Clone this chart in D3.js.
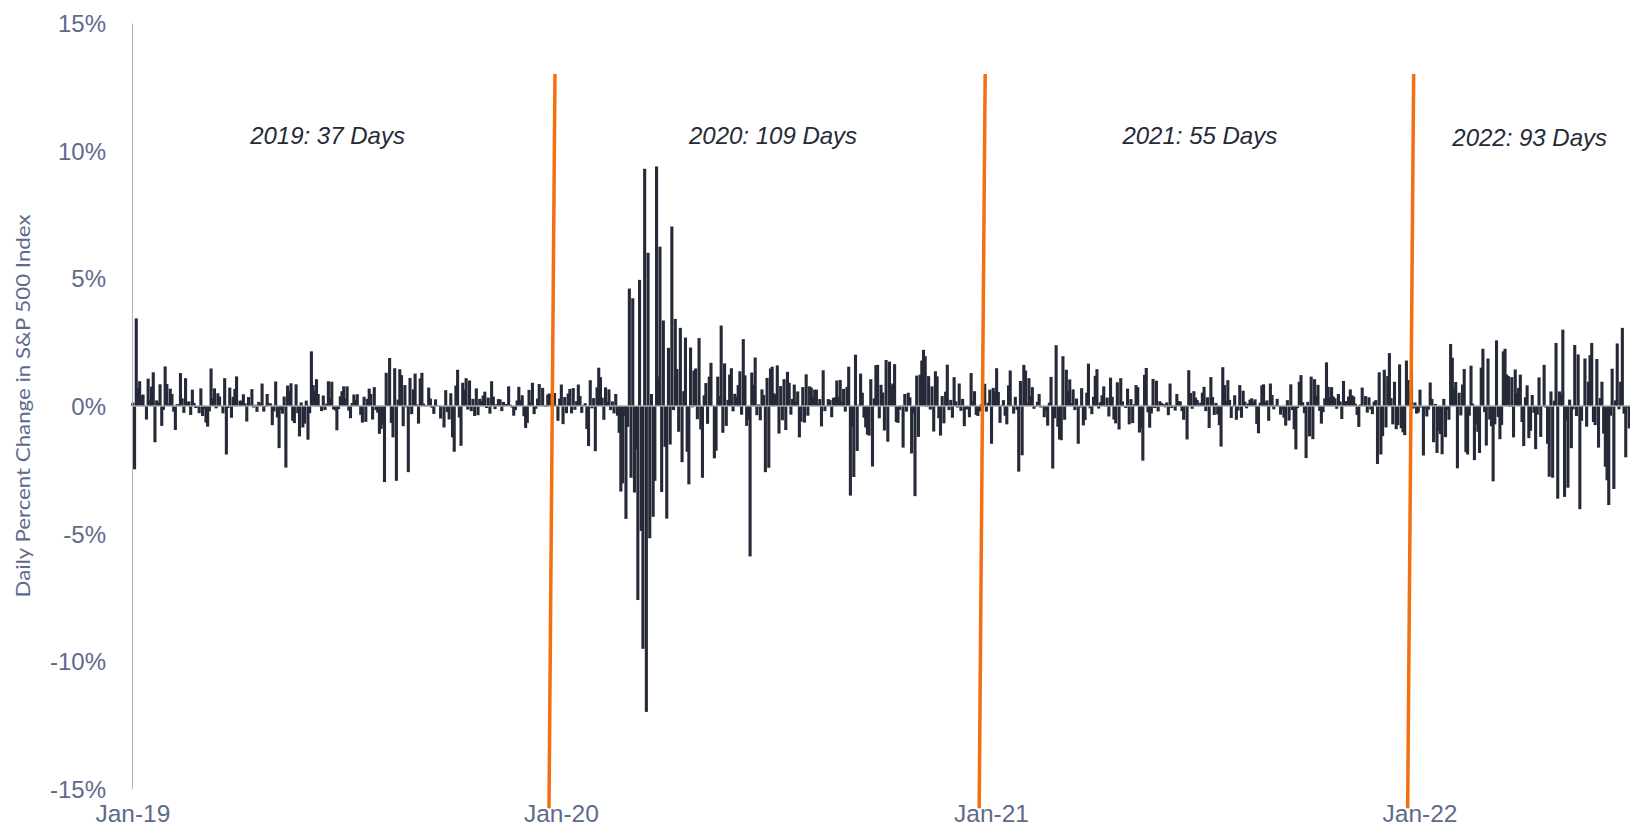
<!DOCTYPE html>
<html><head><meta charset="utf-8">
<script src="https://cdn.jsdelivr.net/npm/d3@7"></script>
<style>body{margin:0;background:#fff;overflow:hidden}</style>
</head><body><svg id="c" width="1630" height="828"></svg>
<script>
// Daily % change of the S&P 500, one value per trading day
const r2019 = [
0.13,-2.48,3.43,0.70,0.97,0.41,0.45,-0.01,-0.53,1.07,0.22,0.76,1.32,-1.42,0.22,0.14,0.85,-0.78,-0.15,1.55,0.86,
0.09,0.68,0.47,-0.22,-0.94,0.07,0.07,1.29,0.30,-0.27,1.09,0.15,0.18,-0.35,0.64,0.12,-0.08,-0.05,-0.28,
0.69,-0.39,-0.11,-0.65,-0.81,-0.21,1.47,0.30,0.69,-0.09,0.50,0.37,-0.01,-0.29,1.09,-1.90,-0.08,0.72,-0.46,0.36,0.67,
1.16,0.00,0.21,0.21,0.46,0.10,-0.61,0.35,0.00,0.66,-0.06,0.05,-0.23,0.16,0.10,0.88,-0.22,-0.04,0.47,0.11,0.10,
-0.75,-0.21,0.96,-0.45,-1.65,-0.16,-0.30,0.37,-2.41,0.80,0.58,0.89,-0.58,-0.67,0.85,-0.28,-1.19,0.14,-0.84,-0.69,0.21,-1.32,
-0.28,2.14,0.82,0.61,1.05,0.47,-0.03,-0.20,0.41,-0.16,0.09,0.97,0.30,0.95,-0.13,-0.17,-0.95,-0.12,0.38,0.58,
0.77,0.29,0.77,-0.18,-0.48,0.12,0.45,0.23,0.46,0.02,-0.34,-0.65,0.36,-0.62,0.28,0.68,0.47,-0.53,0.74,-0.16,-0.26,-1.09,
-0.90,-0.73,-2.98,1.30,0.08,1.88,-0.66,-1.23,1.48,-2.93,0.25,1.44,1.21,-0.79,0.82,-0.05,-2.59,1.10,-0.32,0.65,1.27,0.06,
-0.69,1.08,1.30,0.09,-0.01,0.03,0.72,0.29,-0.07,-0.31,0.26,0.03,0.00,-0.49,-0.01,-0.84,0.62,-0.24,-0.53,0.50,
-1.23,-1.79,0.80,1.42,-0.45,-1.56,0.91,0.64,1.09,-0.14,1.00,-0.20,0.28,-0.39,0.69,-0.36,0.28,0.19,0.41,0.56,-0.08,0.33,-0.30,
0.97,0.37,-0.12,0.07,0.27,0.26,-0.20,0.16,0.07,0.08,0.77,0.05,-0.06,-0.38,-0.16,0.22,0.75,0.22,0.42,-0.40,
-0.86,-0.66,0.63,0.15,0.91,-0.32,-0.11,0.29,0.86,0.01,0.71,0.03,-0.04,0.45,0.49,0.09,-0.02,0.51,0.03,-0.58,0.29
];
const r2020 = [
0.84,-0.71,0.35,-0.28,0.49,0.67,-0.29,0.70,-0.15,0.19,0.84,0.39,-0.27,0.03,0.11,-0.90,-1.57,1.01,-0.09,0.31,-1.77,
0.73,1.50,1.13,0.33,-0.54,0.73,0.17,0.65,-0.16,0.18,-0.29,0.47,-0.38,-1.05,-3.35,-3.03,-0.38,-4.42,-0.82,
4.60,-2.81,4.22,-3.39,-1.71,-7.60,4.94,-4.89,-9.51,9.29,-11.98,6.00,-5.18,0.47,-4.34,-2.93,9.38,1.15,6.24,-3.37,3.35,-1.60,
-4.41,2.28,-1.51,7.03,-0.16,3.41,1.45,-1.01,3.06,-2.20,0.58,2.68,-1.79,-3.07,2.29,-0.05,1.39,1.47,-0.52,2.66,-0.92,
-2.81,0.42,0.90,-0.70,1.15,1.69,0.01,-2.05,-1.75,1.15,0.39,3.15,-1.05,1.67,-0.78,0.24,1.23,1.48,-0.21,0.48,
0.38,0.82,1.36,-0.34,2.62,1.20,-0.78,-0.53,-5.89,1.31,0.83,1.90,-0.36,0.06,-0.56,0.65,0.43,-2.59,1.10,-2.42,1.47,1.54,
0.50,0.45,1.59,-1.08,0.78,-0.56,1.05,-0.94,1.34,0.91,-0.34,0.28,0.84,0.17,0.57,-1.23,-0.62,0.74,-0.65,1.24,-0.38,0.77,
0.72,0.36,0.64,0.64,0.06,0.27,-0.80,1.40,-0.20,-0.02,0.27,0.23,-0.44,0.32,0.34,1.00,0.36,1.02,0.17,0.67,-0.22,
0.75,1.54,-3.51,-0.81,-2.78,2.01,-1.76,0.05,1.27,0.52,-0.46,-0.84,-1.12,-1.16,1.05,-2.37,0.30,1.60,1.61,-0.48,0.83,
0.53,-0.96,1.80,-1.40,1.74,0.80,0.88,1.64,-0.63,-0.66,-0.15,0.01,-1.63,0.47,-0.22,0.52,0.34,-1.86,-0.30,-3.53,1.19,-1.21,
1.23,1.78,2.20,1.95,-0.03,1.17,-0.14,0.77,-1.00,1.36,1.16,-0.48,-1.16,0.39,-0.68,0.56,1.62,-0.16,0.24,-0.46,
1.13,0.18,-0.06,0.88,-0.19,0.28,-0.79,-0.13,-0.13,-0.44,1.29,0.18,0.58,-0.35,-0.39,-0.21,0.07,0.35,0.87,-0.22,0.13,0.64
];
const r2021 = [
-1.48,0.71,0.57,1.48,0.55,-0.66,0.04,0.23,-0.38,-0.72,0.81,1.39,0.03,-0.30,0.36,-0.15,-2.57,0.98,-1.93,
1.61,1.39,0.10,1.09,0.39,0.74,-0.11,-0.03,0.17,0.47,-0.06,-0.03,-0.44,-0.19,-0.77,0.13,1.14,-2.45,-0.48,
2.38,-0.81,-1.31,-1.34,1.95,-0.54,1.42,0.60,1.04,0.10,0.65,-0.16,0.29,-1.48,-0.06,0.70,-0.76,-0.55,0.52,1.66,-0.09,-0.32,0.36,
1.18,1.44,-0.10,0.15,0.42,0.77,-0.02,0.33,-0.41,1.11,0.36,-0.53,-0.68,0.93,-0.92,1.09,0.18,-0.02,-0.08,0.68,-0.72,
0.27,-0.67,0.07,0.82,0.74,-1.04,-0.87,-2.14,1.22,1.49,-0.25,-0.85,-0.29,1.06,-0.08,0.99,-0.21,0.19,0.12,0.08,
-0.05,0.14,-0.36,0.88,-0.08,0.02,-0.18,0.47,0.19,0.18,-0.20,-0.54,-0.04,-1.31,1.40,0.51,-0.11,0.58,0.33,0.23,0.03,0.13,
0.52,0.75,-0.20,0.34,-0.86,1.13,0.35,-0.35,0.12,-0.33,-0.75,-1.59,1.52,0.82,0.20,1.01,0.24,-0.47,-0.02,0.42,-0.54,
-0.18,0.82,-0.46,0.60,0.17,-0.09,0.10,0.25,0.30,0.16,0.26,-0.71,-1.07,0.13,0.81,0.85,0.15,0.22,-0.58,0.88,0.43,-0.13,
0.03,0.28,-0.03,-0.34,-0.13,-0.46,-0.77,0.23,-0.57,0.85,-0.16,-0.91,-1.70,-0.08,0.95,1.21,0.15,-0.28,-2.04,0.16,-1.19,
1.15,-1.30,1.05,0.41,0.83,-0.19,-0.69,-0.24,0.30,1.71,0.75,0.34,0.74,0.37,0.30,-0.11,0.47,0.18,-0.51,0.98,0.19,
0.18,0.37,0.65,0.42,0.37,0.09,-0.35,-0.82,0.06,0.72,0.00,0.39,-0.26,0.34,-0.14,-0.32,0.17,0.23,-2.27,1.32,-1.90,
-1.18,1.42,-0.84,1.17,2.07,0.31,-0.72,0.95,-0.91,-0.75,1.63,-0.87,-1.03,-1.14,1.78,1.02,0.62,1.38,-0.10,0.14,-0.30,-0.26
];
const r2022 = [
0.64,-0.06,-1.94,-0.10,-0.41,-0.14,0.92,0.28,-1.42,0.08,-1.84,-0.97,-1.10,-1.89,0.28,-1.22,-0.15,-0.54,2.43,1.89,
0.69,0.94,-2.44,0.52,-0.37,0.84,1.45,-1.81,-1.90,-0.38,1.58,0.09,-2.12,-0.72,-1.01,-1.84,1.50,2.24,-0.24,
-1.55,1.86,-0.53,-0.79,-2.95,-0.72,2.57,-0.43,-1.30,-0.74,2.14,2.24,1.23,1.17,-0.04,1.13,-1.23,1.43,0.51,0.71,1.23,-0.63,-1.57,
0.34,0.81,-1.26,-0.97,0.43,-0.27,-1.69,-0.34,1.12,-1.21,-0.02,1.61,-0.06,-1.48,-2.77,0.57,-2.81,0.21,2.47,-3.63,
0.57,0.48,2.99,-3.56,-0.57,-3.20,0.25,-1.65,-0.13,2.39,-0.39,2.02,-4.04,-0.58,0.01,1.86,-0.81,0.95,1.99,2.47,-0.63,
-0.75,1.84,-1.63,0.31,0.95,-1.08,-2.38,-2.91,-3.88,-0.38,1.46,-3.25,0.22,2.45,-0.13,0.95,3.06,-0.30,-2.01,-0.07,-0.88
];
const yearSeries = [r2019, r2020, r2021, r2022];
const xTickLabels = ["Jan-19", "Jan-20", "Jan-21", "Jan-22"];
const yTickValues = [15, 10, 5, 0, -5, -10, -15];
const annotationLabels = ["2019: 37 Days", "2020: 109 Days", "2021: 55 Days", "2022: 93 Days"];
const annotationDayInYear = [115, 124.5, 122.6, 64.8];
const annotationValue = [10.6, 10.6, 10.6, 10.5];
const dividerTop = 13, dividerBottom = -15.75;
const yTitle = "Daily Percent Change in S&P 500 Index";

// build flat data
const data = [];
const yearStart = [];
yearSeries.forEach((arr) => { yearStart.push(data.length); arr.forEach(v => data.push(v)); });

const W = 1630, H = 828;
const svg = d3.select("#c");
const x = d3.scaleBand().domain(d3.range(data.length)).range([132, 1630]).paddingInner(0).paddingOuter(0);
const y = d3.scaleLinear().domain([-15, 15]).range([789, 23]);
const slate = "#5d6a8c";
const barW = 3.1;

// bars
svg.append("g").selectAll("rect").data(data).join("rect")
  .attr("x", (d, i) => x(i) + x.bandwidth() / 2 - barW / 2)
  .attr("width", barW)
  .attr("y", d => y(Math.max(0, d)))
  .attr("height", d => Math.abs(y(d) - y(0)))
  .attr("fill", "#262a38");

// zero line
svg.append("line").attr("x1", 132).attr("x2", W).attr("y1", y(0)).attr("y2", y(0))
  .attr("stroke", "#a8a8a8").attr("stroke-width", 1.5);

// y axis
const yAxis = d3.axisLeft(y).tickValues(yTickValues).tickSize(0).tickPadding(26).tickFormat(d => d + "%");
const gy = svg.append("g").attr("transform", "translate(132,0)").call(yAxis);
gy.select(".domain").attr("stroke", "#b4b4b4").attr("stroke-width", 1);
gy.selectAll("text").attr("fill", slate).attr("font-family", "Liberation Sans, Arial, sans-serif")
  .attr("font-size", 24).attr("dy", "0.35em");

// x axis labels
const xt = yearStart.map((s, i) => ({ idx: s, label: xTickLabels[i] }));
svg.append("g").selectAll("text").data(xt).join("text")
  .attr("x", d => x(d.idx) + x.bandwidth() / 2)
  .attr("y", 822)
  .attr("text-anchor", "middle")
  .attr("fill", slate).attr("font-family", "Liberation Sans, Arial, sans-serif").attr("font-size", 24.5)
  .text(d => d.label);

// year dividers
svg.append("g").selectAll("line").data(yearStart.slice(1)).join("line")
  .attr("x1", d => x(d) - 5.5).attr("y1", y(dividerTop))
  .attr("x2", d => x(d) - 11.5).attr("y2", y(dividerBottom))
  .attr("stroke", "#f2700f").attr("stroke-width", 3.5);

// annotations
svg.append("g").selectAll("text").data(annotationLabels).join("text")
  .attr("x", (d, i) => x(Math.round(yearStart[i] + annotationDayInYear[i])))
  .attr("y", (d, i) => y(annotationValue[i]))
  .attr("dy", "0.35em")
  .attr("text-anchor", "middle")
  .attr("fill", "#252a36").attr("font-family", "Liberation Sans, Arial, sans-serif")
  .attr("font-style", "italic").attr("font-size", 24)
  .text(d => d);

// y title
svg.append("text")
  .attr("transform", `translate(30,${y(0)}) rotate(-90)`)
  .attr("text-anchor", "middle")
  .attr("fill", slate).attr("font-family", "Lato, Open Sans, sans-serif").attr("font-size", 19)
  .attr("textLength", 383).attr("lengthAdjust", "spacingAndGlyphs")
  .text(yTitle);
</script>
</body></html>
